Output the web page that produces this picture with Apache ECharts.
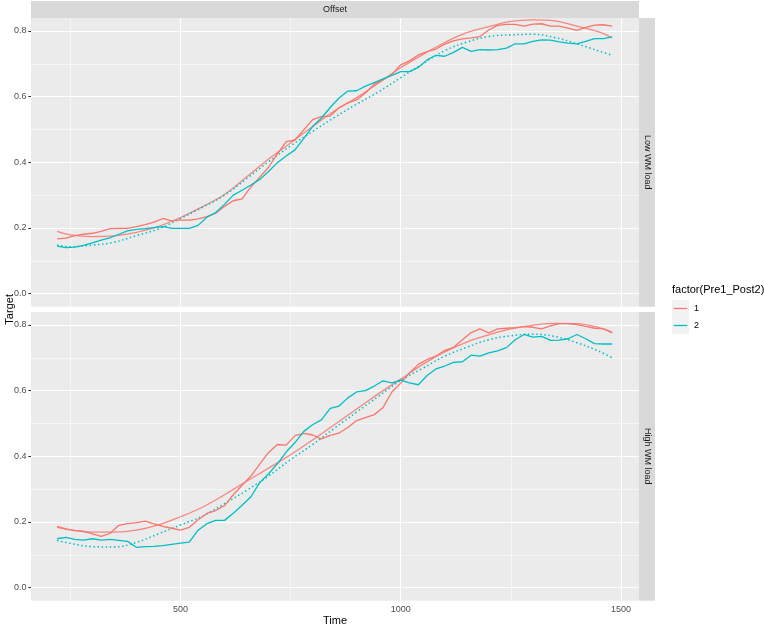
<!DOCTYPE html>
<html><head><meta charset="utf-8">
<script src="https://cdn.jsdelivr.net/npm/echarts@6/dist/echarts.min.js"></script>
<style>html,body{margin:0;padding:0;background:#fff}#c{width:764px;height:626px}</style>
</head><body><div id="c"></div>
<script>
// ---- data ----
const times = [220,240,260,280,300,320,340,360,380,400,420,440,460,480,500,520,540,560,580,600,
  620,640,660,680,700,720,740,760,780,800,820,840,860,880,900,920,940,960,980,1000,
  1020,1040,1060,1080,1100,1120,1140,1160,1180,1200,1220,1240,1260,1280,1300,1320,1340,1360,1380,1400,
  1420,1440,1460,1480];
const lowRed = [0.167,0.169,0.177,0.181,0.184,0.190,0.198,0.199,0.199,0.204,0.210,0.218,0.229,0.222,0.224,0.224,0.228,0.235,0.245,0.266,
  0.283,0.289,0.325,0.355,0.385,0.426,0.463,0.468,0.499,0.530,0.539,0.541,0.566,0.581,0.590,0.611,0.638,0.651,0.668,0.697,
  0.709,0.727,0.737,0.745,0.760,0.770,0.776,0.779,0.783,0.803,0.817,0.820,0.820,0.815,0.821,0.822,0.815,0.815,0.809,0.802,
  0.811,0.818,0.819,0.815];
const lowCyan = [0.145,0.140,0.142,0.147,0.155,0.163,0.170,0.181,0.191,0.196,0.198,0.201,0.204,0.199,0.199,0.199,0.208,0.233,0.247,0.272,
  0.300,0.315,0.331,0.348,0.372,0.399,0.419,0.438,0.473,0.509,0.535,0.567,0.596,0.617,0.618,0.632,0.643,0.654,0.665,0.676,
  0.676,0.689,0.712,0.726,0.723,0.735,0.750,0.738,0.743,0.742,0.743,0.748,0.761,0.761,0.768,0.773,0.772,0.767,0.763,0.761,
  0.768,0.777,0.777,0.782];
const highRed = [0.187,0.179,0.174,0.172,0.164,0.156,0.165,0.190,0.195,0.198,0.203,0.194,0.187,0.181,0.175,0.184,0.207,0.226,0.235,0.250,
  0.283,0.312,0.340,0.376,0.412,0.436,0.434,0.463,0.470,0.465,0.453,0.464,0.471,0.488,0.509,0.518,0.527,0.549,0.596,0.623,
  0.654,0.680,0.695,0.705,0.723,0.732,0.755,0.777,0.788,0.776,0.788,0.790,0.792,0.795,0.793,0.788,0.797,0.804,0.804,0.801,
  0.796,0.790,0.789,0.776];
const highCyan = [0.149,0.153,0.147,0.145,0.149,0.145,0.147,0.144,0.141,0.123,0.125,0.126,0.128,0.132,0.136,0.139,0.175,0.195,0.205,0.205,
  0.227,0.251,0.277,0.320,0.347,0.377,0.413,0.442,0.476,0.496,0.511,0.546,0.553,0.578,0.596,0.600,0.614,0.630,0.624,0.632,
  0.624,0.618,0.646,0.666,0.675,0.686,0.688,0.708,0.705,0.715,0.721,0.731,0.755,0.771,0.763,0.765,0.753,0.754,0.758,0.771,
  0.758,0.743,0.742,0.742];
const fitTimes = [220,250,300,350,400,450,500,550,600,650,700,750,800,850,900,950,1000,1050,1100,1150,1200,1250,1300,1350,1400,1450,1480];
const lowRedFit = [0.190,0.179,0.174,0.176,0.187,0.205,0.232,0.265,0.302,0.355,0.410,0.459,0.509,0.557,0.597,0.642,0.688,0.728,0.765,0.795,0.813,0.829,0.834,0.831,0.815,0.797,0.779];
const lowCyanFit = [0.148,0.143,0.148,0.157,0.177,0.197,0.229,0.263,0.300,0.350,0.402,0.450,0.494,0.537,0.577,0.615,0.658,0.700,0.740,0.766,0.783,0.788,0.790,0.780,0.761,0.739,0.726];
const highRedFit = [0.184,0.176,0.169,0.169,0.175,0.191,0.216,0.245,0.283,0.324,0.364,0.405,0.450,0.497,0.544,0.591,0.635,0.680,0.718,0.748,0.770,0.788,0.799,0.805,0.804,0.792,0.778];
const highCyanFit = [0.144,0.135,0.125,0.124,0.138,0.164,0.191,0.218,0.256,0.296,0.340,0.390,0.436,0.486,0.535,0.583,0.631,0.668,0.705,0.732,0.755,0.767,0.772,0.765,0.746,0.720,0.700];
const xMajor = [500,1000,1500];
const xMinor = [250,750,1250];
const yMajor = [0,0.2,0.4,0.6,0.8];
const yMinor = [0.1,0.3,0.5,0.7];
const rowLabels = ['Low WM load','High WM load'];
const colLabel = 'Offset';
const groups = ['1','2'];

// ---- layout ----
const RED = '#F8766D', CYAN = '#00BFC4';
const FONT = 'Liberation Sans, Arial, sans-serif';
const L = 31, W = 608, H = 288.7, TOPS = [18, 312];
const XMIN = 160.7, XMAX = 1541, YMIN = -0.0396, YMAX = 0.8395;

const pairs = (xs, ys) => xs.map((x, i) => [x, ys[i]]);

const grids = TOPS.map(t => ({left: L, top: t, width: W, height: H, show: true,
  backgroundColor: '#EBEBEB', borderWidth: 0, containLabel: false}));
const xAxes = [0, 1].map(i => ({
  type: 'value', gridIndex: i, min: XMIN, max: XMAX,
  axisLine: {show: false}, splitLine: {show: false},
  axisTick: {show: i === 1, customValues: xMajor, length: 2.7, lineStyle: {color: '#333333', width: 1}},
  axisLabel: {show: i === 1, customValues: xMajor, margin: 4.5, color: '#4D4D4D', fontSize: 9, fontFamily: FONT,
    formatter: v => String(v)}
}));
const yAxes = [0, 1].map(i => ({
  type: 'value', gridIndex: i, min: YMIN, max: YMAX,
  axisLine: {show: false}, splitLine: {show: false},
  axisTick: {show: true, customValues: yMajor, length: 2.7, lineStyle: {color: '#333333', width: 1}},
  axisLabel: {show: true, customValues: yMajor, margin: 4.5, color: '#4D4D4D', fontSize: 9, fontFamily: FONT,
    formatter: v => Number(v).toFixed(1)}
}));

function gridLines(i) {
  const d = [];
  xMinor.forEach(v => d.push({xAxis: v, lineStyle: {width: 0.55}}));
  yMinor.forEach(v => d.push({yAxis: v, lineStyle: {width: 0.55}}));
  xMajor.forEach(v => d.push({xAxis: v, lineStyle: {width: 1.1}}));
  yMajor.forEach(v => d.push({yAxis: v, lineStyle: {width: 1.1}}));
  return {type: 'line', xAxisIndex: i, yAxisIndex: i, data: [], silent: true,
    markLine: {silent: true, symbol: ['none', 'none'], z: 1, animation: false,
      label: {show: false}, emphasis: {disabled: true},
      lineStyle: {color: '#FFFFFF', type: 'solid', opacity: 1}, data: d}};
}
function raw(name, i, xs, ys, color) {
  return {type: 'line', name, xAxisIndex: i, yAxisIndex: i, data: pairs(xs, ys), showSymbol: false,
    symbol: 'none', z: 3, silent: true, lineStyle: {color, width: 1.3}, itemStyle: {color}};
}
function fit(name, i, xs, ys, color, dotted) {
  return {type: 'line', name, xAxisIndex: i, yAxisIndex: i, data: pairs(xs, ys), showSymbol: false,
    symbol: 'none', smooth: 0.4, z: 3, silent: true,
    lineStyle: {color, width: dotted ? 1.5 : 1.3, type: dotted ? [1.5, 2.6] : 'solid', opacity: dotted ? 1 : 0.85},
    itemStyle: {color}};
}

const series = [
  gridLines(0), gridLines(1),
  fit(groups[0], 0, fitTimes, lowRedFit, RED, false),
  fit(groups[1], 0, fitTimes, lowCyanFit, CYAN, true),
  raw(groups[0], 0, times, lowRed, RED),
  raw(groups[1], 0, times, lowCyan, CYAN),
  fit(groups[0], 1, fitTimes, highRedFit, RED, false),
  fit(groups[1], 1, fitTimes, highCyanFit, CYAN, true),
  raw(groups[0], 1, times, highRed, RED),
  raw(groups[1], 1, times, highCyan, CYAN)
];

const txt = (x, y, text, size, extra) => Object.assign({type: 'text', x, y, silent: true,
  style: Object.assign({text, fill: '#1A1A1A', font: size + 'px ' + FONT, textAlign: 'center', textVerticalAlign: 'middle'}, extra || {})});

const graphic = [
  {type: 'rect', shape: {x: L, y: 1, width: W, height: 17}, style: {fill: '#D9D9D9'}, silent: true},
  txt(L + W / 2, 9.5, colLabel, 9),
  {type: 'rect', shape: {x: L + W, y: TOPS[0], width: 16, height: H}, style: {fill: '#D9D9D9'}, silent: true},
  {type: 'rect', shape: {x: L + W, y: TOPS[1], width: 16, height: H}, style: {fill: '#D9D9D9'}, silent: true},
  Object.assign(txt(0, 0, rowLabels[0], 9), {x: L + W + 8, y: TOPS[0] + H / 2, rotation: -Math.PI / 2}),
  Object.assign(txt(0, 0, rowLabels[1], 9), {x: L + W + 8, y: TOPS[1] + H / 2, rotation: -Math.PI / 2}),
  Object.assign(txt(0, 0, 'Target', 11, {fill: '#000'}), {x: 10, y: (TOPS[0] + TOPS[1] + H) / 2, rotation: Math.PI / 2}),
  txt(L + W / 2, 620.5, 'Time', 11, {fill: '#000'}),
  txt(672, 290, 'factor(Pre1_Post2)', 11, {fill: '#000', textAlign: 'left'}),
  {type: 'rect', shape: {x: 672, y: 300, width: 17, height: 17}, style: {fill: '#F2F2F2'}, silent: true},
  {type: 'rect', shape: {x: 672, y: 317, width: 17, height: 17}, style: {fill: '#F2F2F2'}, silent: true},
  {type: 'line', shape: {x1: 673.7, y1: 308.5, x2: 687.3, y2: 308.5}, style: {stroke: RED, lineWidth: 1.3}, silent: true},
  {type: 'line', shape: {x1: 673.7, y1: 325.5, x2: 687.3, y2: 325.5}, style: {stroke: CYAN, lineWidth: 1.3}, silent: true},
  txt(694, 308.5, groups[0], 9, {fill: '#000', textAlign: 'left'}),
  txt(694, 325.5, groups[1], 9, {fill: '#000', textAlign: 'left'})
];

const chart = echarts.init(document.getElementById('c'), null, {renderer: 'canvas'});
chart.setOption({
  animation: false, backgroundColor: '#FFFFFF',
  grid: grids, xAxis: xAxes, yAxis: yAxes, series, graphic
});
</script></body></html>
